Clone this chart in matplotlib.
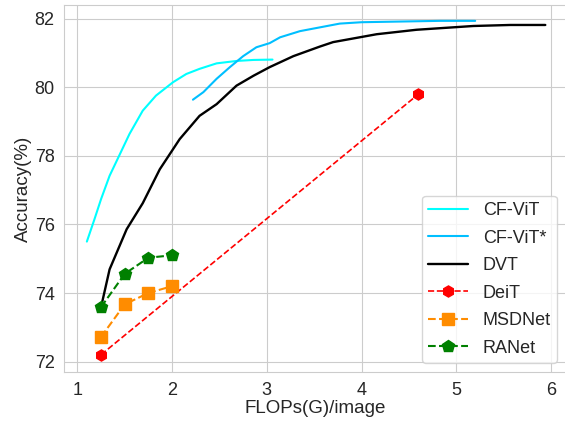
import numpy as np
import matplotlib
matplotlib.use("Agg")
import matplotlib.pyplot as plt
import seaborn as sns

# ============================================================
# Data
# ============================================================

cfvit_flops = [1.10, 1.18, 1.25, 1.34, 1.44, 1.55, 1.69, 1.83, 2.01, 2.15,
               2.29, 2.47, 2.68, 2.86, 3.06]
cfvit_acc = [75.50, 76.15, 76.74, 77.42, 78.00, 78.64, 79.32, 79.76, 80.15, 80.39,
             80.54, 80.70, 80.77, 80.80, 80.81]

cfvit_star_flops = [2.22, 2.33, 2.47, 2.61, 2.75, 2.89, 3.03, 3.14, 3.35, 3.56,
                    3.77, 4.00, 4.41, 4.83, 5.20]
cfvit_star_acc = [79.64, 79.86, 80.25, 80.59, 80.91, 81.17, 81.29, 81.46, 81.64, 81.75,
                  81.86, 81.90, 81.92, 81.94, 81.94]

dvt_flops = [1.25, 1.34, 1.52, 1.69, 1.87, 2.08, 2.29, 2.47, 2.68, 2.86,
             3.03, 3.28, 3.56, 3.70, 4.16, 4.58, 5.18, 5.57, 5.94]
dvt_acc = [73.59, 74.69, 75.86, 76.62, 77.61, 78.49, 79.17, 79.51, 80.05, 80.34,
           80.59, 80.91, 81.19, 81.32, 81.55, 81.68, 81.79, 81.82, 81.82]

deit_flops = [1.25, 4.6]
deit_acc = [72.2, 79.8]

msdnet_flops = [1.25, 1.5, 1.75, 2.0]
msdnet_acc = [72.72, 73.67, 74.0, 74.2]

ranet_flops = [1.25, 1.5, 1.75, 2.0]
ranet_acc = [73.59, 74.56, 75.03, 75.1]

# ============================================================
# Plot
# ============================================================

sns.set_style("whitegrid")
plt.rcParams["font.family"] = ["Liberation Sans", "DejaVu Sans"]

fig, ax = plt.subplots(figsize=(5.65, 4.24), dpi=100)
# the right spine sits just past the image edge in the reference
fig.subplots_adjust(left=0.114, right=1.002, top=0.988, bottom=0.123)

ax.plot(cfvit_flops, cfvit_acc, color="cyan", lw=1.5, label="CF-ViT")
ax.plot(cfvit_star_flops, cfvit_star_acc, color="deepskyblue", lw=1.5, label="CF-ViT*")
ax.plot(dvt_flops, dvt_acc, color="black", lw=1.7, label="DVT")
ax.plot(deit_flops, deit_acc, color="red", ls="--", lw=1.2, marker="h",
        markersize=8, label="DeiT")
ax.plot(msdnet_flops, msdnet_acc, color="darkorange", ls="--", lw=1.5, marker="s",
        markersize=9, label="MSDNet")
ax.plot(ranet_flops, ranet_acc, color="green", ls="--", lw=1.5, marker="p",
        markersize=9, label="RANet")

ax.set_xlim(0.863, 6.16)
ax.set_ylim(71.7, 82.4)
ax.set_xticks([1, 2, 3, 4, 5, 6])
ax.set_yticks([72, 74, 76, 78, 80, 82])
ax.tick_params(labelsize=13)
ax.set_xlabel("FLOPs(G)/image", fontsize=13.5, labelpad=1)
ax.set_ylabel("Accuracy(%)", fontsize=13.5, labelpad=2)

ax.legend(loc="lower right", fontsize=13, handlelength=2.2, borderpad=0.35,
          labelspacing=0.58)

fig.savefig("out.png", dpi=100)
